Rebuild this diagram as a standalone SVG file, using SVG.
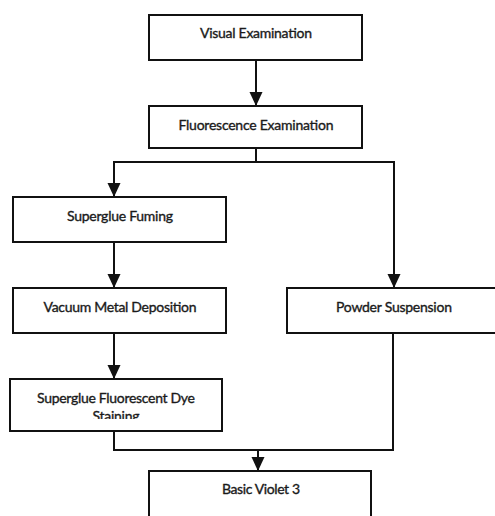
<svg xmlns="http://www.w3.org/2000/svg" width="495" height="516" viewBox="0 0 495 516">
  <style>
    .box { fill: #fff; stroke: #111; stroke-width: 2; }
    .lbl { font-family: Lato, "Liberation Sans", Arial, sans-serif; font-size: 14px; fill: #1a1a1a; stroke: #1a1a1a; stroke-width: 0.35; text-anchor: middle; }
    .wire { fill: none; stroke: #111; stroke-width: 2; }
  </style>
  <defs>
    <marker id="arrow" markerUnits="userSpaceOnUse" markerWidth="15" markerHeight="15" viewBox="0 0 15 15" refX="14" refY="7.5" orient="auto">
      <path d="M0,1 L14,7.5 L0,14 Z" fill="#111"/>
    </marker>
    <clipPath id="clipSFD">
      <rect x="10" y="379" width="212" height="40"/>
    </clipPath>
  </defs>
  <rect width="495" height="516" fill="#fff"/>

  <g id="connectors">
    <line class="wire" x1="256" y1="60" x2="256" y2="106" marker-end="url(#arrow)"/>
    <polyline class="wire" points="256,148 256,162"/>
    <polyline class="wire" points="114,162 394,162"/>
    <line class="wire" x1="114" y1="161" x2="114" y2="197" marker-end="url(#arrow)"/>
    <line class="wire" x1="394" y1="161" x2="394" y2="288" marker-end="url(#arrow)"/>
    <line class="wire" x1="114" y1="242" x2="114" y2="288" marker-end="url(#arrow)"/>
    <line class="wire" x1="114" y1="333" x2="114" y2="379" marker-end="url(#arrow)"/>
    <polyline class="wire" points="114,431 114,450 393,450 393,333"/>
    <line class="wire" x1="258" y1="450" x2="258" y2="471" marker-end="url(#arrow)"/>
  </g>

  <g id="visual-examination">
    <rect class="box" x="149" y="15" width="213" height="45"/>
    <text class="lbl" x="256" y="38" textLength="112">Visual Examination</text>
  </g>
  <g id="fluorescence-examination">
    <rect class="box" x="149" y="106" width="213" height="42"/>
    <text class="lbl" x="256" y="130" textLength="155">Fluorescence Examination</text>
  </g>
  <g id="superglue-fuming">
    <rect class="box" x="13" y="197" width="213" height="45"/>
    <text class="lbl" x="120" y="221" textLength="106">Superglue Fuming</text>
  </g>
  <g id="vacuum-metal-deposition">
    <rect class="box" x="13" y="288" width="213" height="45"/>
    <text class="lbl" x="120" y="312" textLength="153">Vacuum Metal Deposition</text>
  </g>
  <g id="powder-suspension">
    <rect class="box" x="287" y="288" width="220" height="45"/>
    <text class="lbl" x="394" y="312" textLength="116">Powder Suspension</text>
  </g>
  <g id="superglue-fluorescent-dye-staining">
    <rect class="box" x="10" y="379" width="212" height="52"/>
    <g clip-path="url(#clipSFD)">
      <text class="lbl" x="116" y="403" textLength="158">Superglue Fluorescent Dye</text>
      <text class="lbl" x="116" y="421" textLength="47">Staining</text>
    </g>
  </g>
  <g id="basic-violet-3">
    <rect class="box" x="149" y="471" width="222" height="60"/>
    <text class="lbl" x="261" y="494" textLength="78">Basic Violet 3</text>
  </g>
</svg>
